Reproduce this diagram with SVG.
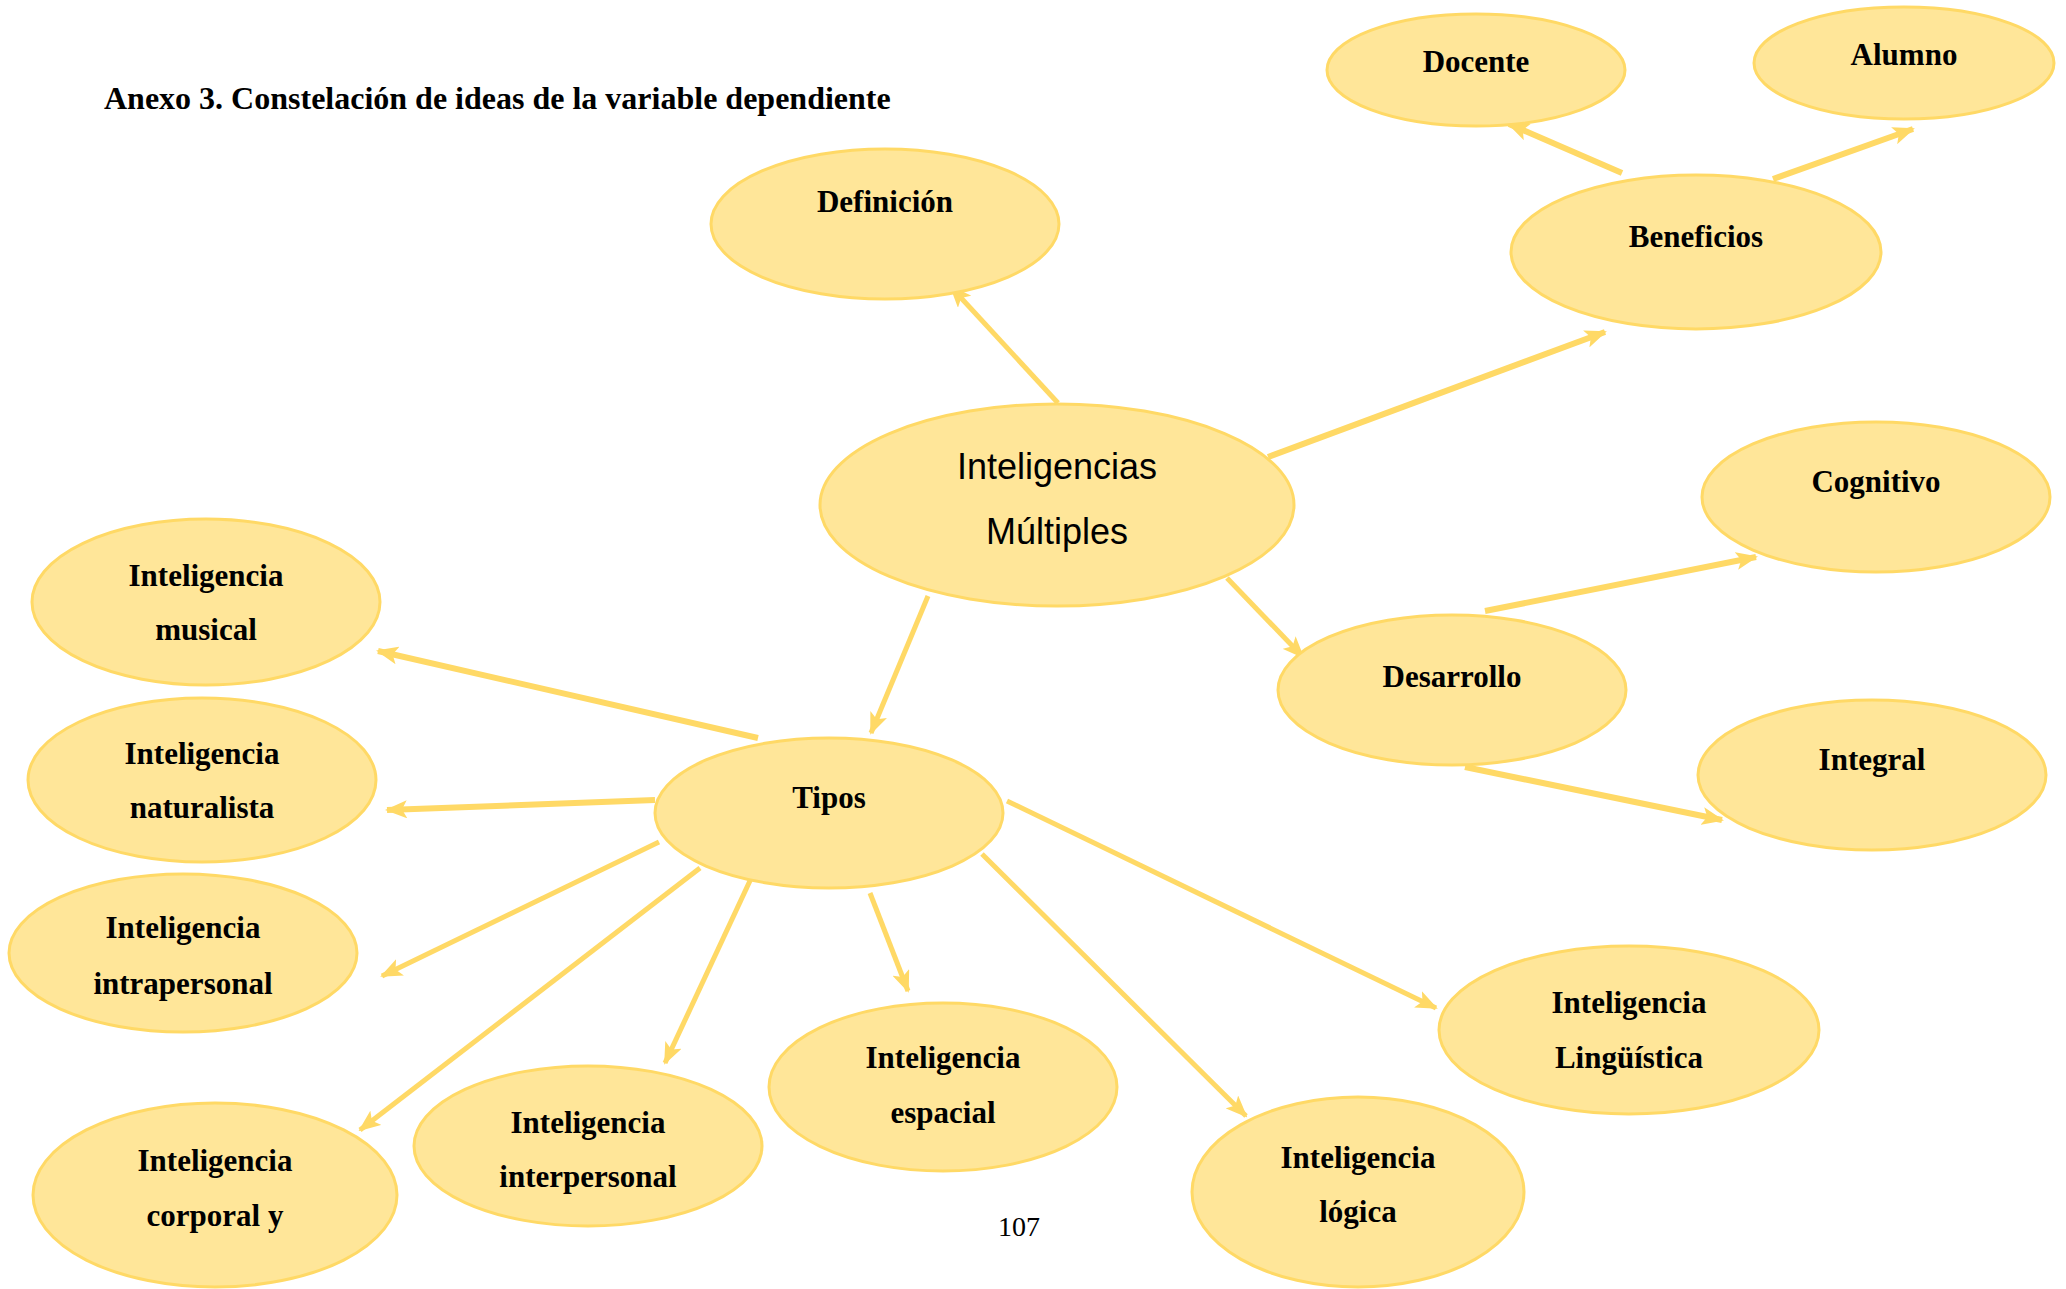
<svg xmlns="http://www.w3.org/2000/svg" width="2066" height="1289" viewBox="0 0 2066 1289">
<style>
.n{fill:#FFE699;stroke:#FFD966;stroke-width:3}
.t{font-family:"Liberation Serif","Times New Roman",serif;font-weight:bold;font-size:31px;fill:#000;text-anchor:middle}
.s{font-family:"Liberation Sans",Arial,sans-serif;font-size:36px;fill:#000;text-anchor:middle}
.c line{stroke:#FFD966;stroke-width:6;marker-end:url(#ah)}
.c line.th{stroke-width:5}
</style>
<defs>
<marker id="ah" viewBox="0 0 22 18" refX="20" refY="9" markerWidth="22" markerHeight="18" markerUnits="userSpaceOnUse" orient="auto">
<path d="M0,0 L22,9 L0,18 L5,9 z" fill="#FFD966"/>
</marker>
</defs>
<rect width="2066" height="1289" fill="#fff"/>
<text x="104" y="109" font-family="Liberation Serif,Times New Roman,serif" font-weight="bold" font-size="32">Anexo 3. Constelación de ideas de la variable dependiente</text>
<g class="c">
<line x1="1058" y1="403" x2="951" y2="287" class="th"/>
<line x1="1268" y1="457" x2="1605" y2="332"/>
<line x1="1622" y1="173" x2="1509" y2="124"/>
<line x1="1773" y1="179" x2="1913" y2="129"/>
<line x1="1227" y1="578" x2="1303" y2="657" class="th"/>
<line x1="1485" y1="611" x2="1756" y2="557"/>
<line x1="1465" y1="767" x2="1722" y2="820"/>
<line x1="928" y1="596" x2="871" y2="733" class="th"/>
<line x1="758" y1="738" x2="378" y2="651"/>
<line x1="655" y1="800" x2="387" y2="810"/>
<line x1="659" y1="842" x2="382" y2="976" class="th"/>
<line x1="700" y1="868" x2="360" y2="1130" class="th"/>
<line x1="755" y1="870" x2="665" y2="1063" class="th"/>
<line x1="870" y1="893" x2="908" y2="991" class="th"/>
<line x1="982" y1="854" x2="1246" y2="1116" class="th"/>
<line x1="1007" y1="801" x2="1436" y2="1008" class="th"/>
</g>
<g id="definicion"><ellipse class="n" cx="885" cy="224" rx="174" ry="75"/><text class="t" x="885" y="212">Definición</text></g>
<g id="docente"><ellipse class="n" cx="1476" cy="70" rx="149" ry="56"/><text class="t" x="1476" y="72">Docente</text></g>
<g id="alumno"><ellipse class="n" cx="1904" cy="63" rx="150" ry="56"/><text class="t" x="1904" y="65">Alumno</text></g>
<g id="beneficios"><ellipse class="n" cx="1696" cy="252" rx="185" ry="77"/><text class="t" x="1696" y="247">Beneficios</text></g>
<g id="im"><ellipse class="n" cx="1057" cy="505" rx="237" ry="101"/><text class="s" x="1057" y="479">Inteligencias</text><text class="s" x="1057" y="544">Múltiples</text></g>
<g id="cognitivo"><ellipse class="n" cx="1876" cy="497" rx="174" ry="75"/><text class="t" x="1876" y="492">Cognitivo</text></g>
<g id="desarrollo"><ellipse class="n" cx="1452" cy="690" rx="174" ry="75"/><text class="t" x="1452" y="687">Desarrollo</text></g>
<g id="integral"><ellipse class="n" cx="1872" cy="775" rx="174" ry="75"/><text class="t" x="1872" y="770">Integral</text></g>
<g id="tipos"><ellipse class="n" cx="829" cy="813" rx="174" ry="75"/><text class="t" x="829" y="808">Tipos</text></g>
<g id="musical"><ellipse class="n" cx="206" cy="602" rx="174" ry="83"/><text class="t" x="206" y="586">Inteligencia</text><text class="t" x="206" y="640">musical</text></g>
<g id="naturalista"><ellipse class="n" cx="202" cy="780" rx="174" ry="82"/><text class="t" x="202" y="764">Inteligencia</text><text class="t" x="202" y="818">naturalista</text></g>
<g id="intrapersonal"><ellipse class="n" cx="183" cy="953" rx="174" ry="79"/><text class="t" x="183" y="938">Inteligencia</text><text class="t" x="183" y="994">intrapersonal</text></g>
<g id="corporal"><ellipse class="n" cx="215" cy="1195" rx="182" ry="92"/><text class="t" x="215" y="1171">Inteligencia</text><text class="t" x="215" y="1226">corporal y</text></g>
<g id="interpersonal"><ellipse class="n" cx="588" cy="1146" rx="174" ry="80"/><text class="t" x="588" y="1133">Inteligencia</text><text class="t" x="588" y="1187">interpersonal</text></g>
<g id="espacial"><ellipse class="n" cx="943" cy="1087" rx="174" ry="84"/><text class="t" x="943" y="1068">Inteligencia</text><text class="t" x="943" y="1123">espacial</text></g>
<g id="logica"><ellipse class="n" cx="1358" cy="1192" rx="166" ry="95"/><text class="t" x="1358" y="1168">Inteligencia</text><text class="t" x="1358" y="1222">lógica</text></g>
<g id="linguistica"><ellipse class="n" cx="1629" cy="1030" rx="190" ry="84"/><text class="t" x="1629" y="1013">Inteligencia</text><text class="t" x="1629" y="1068">Lingüística</text></g>
<text x="1019" y="1236" font-family="Liberation Serif,Times New Roman,serif" font-size="28" text-anchor="middle">107</text>
</svg>
